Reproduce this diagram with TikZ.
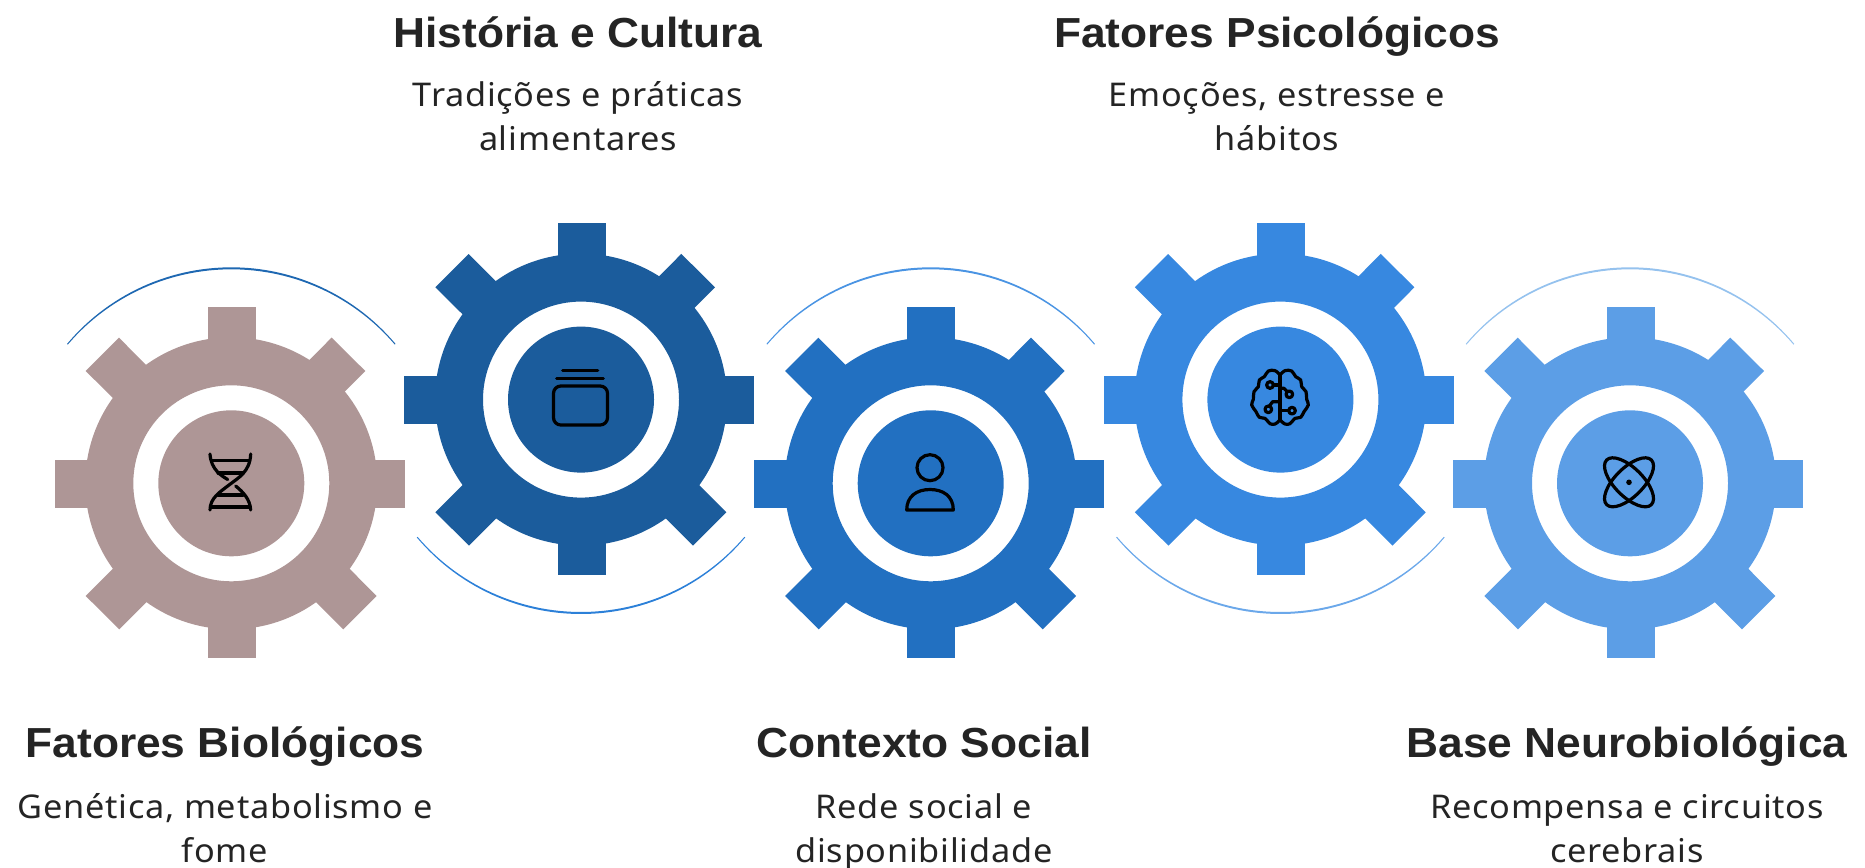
\documentclass[tikz,border=0pt]{standalone}
\usepackage{fontspec}
\setmainfont{Liberation Sans}[FakeStretch=1.055]
\newfontfamily\bodyfont{Noto Sans}[FakeStretch=1.05,LetterSpace=2.3]
\definecolor{gA}{HTML}{AE9696}
\definecolor{gB}{HTML}{1B5C9C}
\definecolor{gC}{HTML}{2270C1}
\definecolor{gD}{HTML}{3788E0}
\definecolor{gE}{HTML}{5C9EE6}
\definecolor{arcA}{HTML}{1E68B2}
\definecolor{arcB}{HTML}{2C80D8}
\definecolor{arcC}{HTML}{4A94E3}
\definecolor{arcD}{HTML}{6BA8EA}
\definecolor{arcE}{HTML}{95C2EE}
\definecolor{ink}{HTML}{242424}
\tikzset{
  head/.style={font=\fontsize{31.5}{33}\selectfont\bfseries,text=ink,inner sep=0pt,anchor=base},
  body/.style={font=\bodyfont\fontsize{24.5}{33}\selectfont,text=ink,inner sep=0pt,align=center,anchor=base},
  icon/.style={draw=black,line width=2.4pt,line cap=round,line join=round},
}
\newcommand{\gearshape}[1]{%
  \fill[#1] (-23.3,-176.6) -- (24.7,-176.6) -- (24.7,-100) -- (-23.3,-100) -- cycle;
  \fill[#1] (-23.3,175) -- (24.7,175) -- (24.7,100) -- (-23.3,100) -- cycle;
  \fill[#1] (-176.7,-23.3) -- (-176.7,24.3) -- (-100,24.3) -- (-100,-23.3) -- cycle;
  \fill[#1] (173.3,-23.3) -- (173.3,24.3) -- (100,24.3) -- (100,-23.3) -- cycle;
  \fill[#1] (-112.3,-145.6) -- (-145.6,-112.3) -- (-95,-62) -- (-62,-95) -- cycle;
  \fill[#1] (100.3,-145.7) -- (134,-112.3) -- (84,-62) -- (50,-95) -- cycle;
  \fill[#1] (145.3,112.7) -- (112,146) -- (62,96) -- (95,62) -- cycle;
  \fill[#1] (-145.6,112.7) -- (-112,146) -- (-62,96) -- (-95,62) -- cycle;
  \fill[#1,even odd rule] (0,0) circle[radius=146] (0,0) circle[radius=98];
  \fill[#1] (0,0) circle[radius=73];
}
% thin crescent arc above (sign=-1) or below (sign=1) the gear centre
\newcommand{\swoosh}[3]{%
  \fill[#1] plot[domain=40:140,samples=60] ({214.4*cos(\x)},{#2*214.4*sin(\x)+#3})
    -- plot[domain=140:40,samples=60] ({(213.4-1.0*sin((\x-40)*1.8))*cos(\x)},{#2*(213.4-1.0*sin((\x-40)*1.8))*sin(\x)+#3}) -- cycle;
}
\begin{document}
\begin{tikzpicture}[x=0.75pt,y=-0.75pt]
\useasboundingbox (0,0) rectangle (1865,867);
% gears
\begin{scope}[shift={(231.3,483.3)}]\gearshape{gA}\swoosh{arcA}{-1}{-1.6}\end{scope}
\begin{scope}[shift={(581,399.6)}]\gearshape{gB}\swoosh{arcB}{1}{0}\end{scope}
\begin{scope}[shift={(930.7,483.3)}]\gearshape{gC}\swoosh{arcC}{-1}{-1.6}\end{scope}
\begin{scope}[shift={(1280.4,399.6)}]\gearshape{gD}\swoosh{arcD}{1}{0}\end{scope}
\begin{scope}[shift={(1630,483.3)}]\gearshape{gE}\swoosh{arcE}{-1}{-1.6}\end{scope}
% DNA icon
\begin{scope}[icon]
\draw (210,454) .. controls (211,470) and (222,476) .. (227.7,479.5);
\draw (235.7,486) .. controls (243,492) and (250,499) .. (250.7,510);
\draw (250.7,454) .. controls (250,472) and (238,478) .. (229,485) .. controls (220,492) and (210,498) .. (210,510);
\draw (212,460.7) -- (249,460.7);
\draw (218,473) -- (243,473);
\draw (218,495) -- (243,495);
\draw (212,507) -- (249,507);
\end{scope}
% stack icon
\begin{scope}[icon]
\draw[rounded corners=5.5pt] (553.5,386) rectangle (607.5,425);
\draw (562.7,370.7) -- (597.7,370.7);
\draw (556.7,378.3) -- (603.3,378.3);
\end{scope}
% person icon
\begin{scope}[icon]
\draw (930,467.7) circle[radius=13];
\draw (906.7,510) .. controls (906.7,496) and (917,489.5) .. (930,489.5) .. controls (943,489.5) and (953.3,496) .. (953.3,510) -- cycle;
\end{scope}
% brain icon
\begin{scope}[icon,shift={(1230,360)},x=0.25pt,y=-0.25pt]
\draw plot[smooth,tension=0.6] coordinates {(150,45)(135,32)(115,33)(103,50)(88,60)(85,80)(72,95)(70,118)(65,135)(78,155)(88,172)(105,175)(120,191)(135,192)(150,180)};
\draw plot[smooth,tension=0.6] coordinates {(150,45)(165,32)(185,33)(197,50)(212,60)(215,80)(228,95)(230,118)(235,135)(222,155)(212,172)(195,175)(180,191)(165,192)(150,180)};
\draw (150,45) -- (150,180);
\draw (120,75) circle[radius=10];
\draw (130,75) -- (150,75);
\draw (178,103) circle[radius=10];
\draw (172,95) -- (162,85) -- (150,85);
\draw (115,148) circle[radius=10];
\draw (118,138) -- (128,125) -- (150,125);
\draw (186,152) circle[radius=10];
\draw (176,152) -- (150,152);
\end{scope}
% atom icon
\begin{scope}[icon,shift={(1629,482.3)}]
\draw[rotate=45] (0,0) ellipse[x radius=31.6,y radius=14.2];
\draw[rotate=-45] (0,0) ellipse[x radius=31.6,y radius=14.2];
\fill (0,0) circle[radius=2.8];
\end{scope}
% texts
\node[head] (h1) at (225,757.3) {Fatores Biológicos};
\node[body] (b1) at (225,862.8) {Genética, metabolismo e\\fome};
\node[head] (h2) at (578,47.3) {História e Cultura};
\node[body] (b2) at (578,150.7) {Tradições e práticas\\alimentares};
\node[head] (h3) at (924,757.3) {Contexto Social};
\node[body] (b3) at (924,862.8) {Rede social e\\disponibilidade};
\node[head] (h4) at (1277,47.3) {Fatores Psicológicos};
\node[body] (b4) at (1277,150.7) {Emoções, estresse e\\hábitos};
\node[head] (h5) at (1627,757.3) {Base Neurobiológica};
\node[body] (b5) at (1627,862.8) {Recompensa e circuitos\\cerebrais};
\end{tikzpicture}
\end{document}
